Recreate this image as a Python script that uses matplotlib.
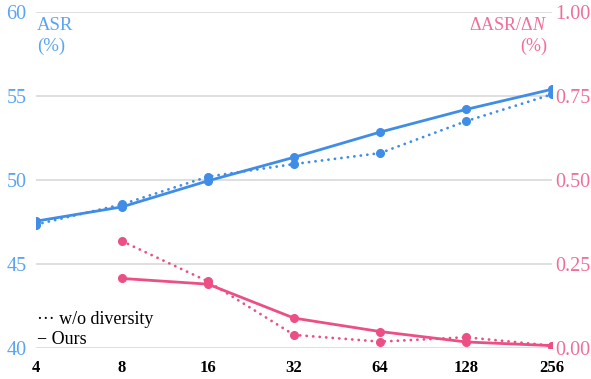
import numpy as np
import matplotlib
matplotlib.use("Agg")
import matplotlib.pyplot as plt

plt.rcParams['font.family'] = ['Liberation Serif', 'DejaVu Serif']
plt.rcParams['mathtext.fontset'] = 'custom'
plt.rcParams['mathtext.rm'] = 'Liberation Serif'
plt.rcParams['mathtext.it'] = 'Liberation Serif:italic'

# Data
n_samples = [4, 8, 16, 32, 64, 128, 256]
asr_ours = [47.55, 48.4, 49.95, 51.35, 52.85, 54.2, 55.4]
asr_wo_div = [47.35, 48.55, 50.2, 50.95, 51.6, 53.5, 55.1]

delta_n = [8, 16, 32, 64, 128, 256]
delta_ours = [0.207, 0.19, 0.089, 0.049, 0.018, 0.007]
delta_wo_div = [0.318, 0.198, 0.039, 0.019, 0.032, 0.007]

BLUE = "#3f8de6"
BLUE_TXT = "#5aa4f2"
PINK = "#ec4f86"
PINK_TXT = "#ef6f98"
DOTTED = (0, (0.05, 2.3))

fig = plt.figure(figsize=(5.91, 3.79), dpi=100)
ax = fig.add_axes([36 / 591, 1 - 348 / 379, 516 / 591, 336 / 379])
ax2 = ax.twinx()

x = np.log2(n_samples)
xd = np.log2(delta_n)

ax.plot(x, asr_wo_div, color=BLUE, lw=2.0, ls=DOTTED, marker='o', ms=5.5,
        dash_capstyle='round', zorder=3)
ax.plot(x, asr_ours, color=BLUE, lw=2.0, marker='o', ms=5.5, zorder=3)
ax2.plot(xd, delta_wo_div, color=PINK, lw=2.0, ls=DOTTED, marker='o', ms=5.5,
         dash_capstyle='round', zorder=3)
ax2.plot(xd, delta_ours, color=PINK, lw=2.0, marker='o', ms=5.5, zorder=3)

ax.set_xlim(x[0], x[-1])
ax.set_ylim(40, 60)
ax2.set_ylim(0, 1.0)
ax.set_yticks([40, 45, 50, 55, 60])
ax2.set_yticks([0, 0.25, 0.5, 0.75, 1.0])
ax2.set_yticklabels(["0.00", "0.25", "0.50", "0.75", "1.00"])
ax.set_xticks(x)
ax.set_xticklabels([str(v) for v in n_samples], fontweight='bold')

ax.grid(axis='y', color='#d9d9d9', lw=1.2)
ax.set_axisbelow(True)
for a in (ax, ax2):
    for s in a.spines.values():
        s.set_visible(False)
ax.tick_params(axis='x', length=0, labelsize=12, pad=9, labelcolor='black')
ax.tick_params(axis='y', length=0, labelsize=14.5, pad=7, labelcolor=BLUE_TXT)
ax2.tick_params(axis='y', length=0, labelsize=14.5, pad=2, labelcolor=PINK_TXT)

ax.text(0.002, 0.985, "ASR\n(%)", transform=ax.transAxes, ha='left', va='top',
        color=BLUE_TXT, fontsize=13.5, linespacing=1.3)
ax2.text(0.99, 0.985, r"$\Delta$ASR/$\Delta\mathit{N}$" + "\n(%)", transform=ax.transAxes,
         ha='right', va='top', color=PINK_TXT, fontsize=13, linespacing=1.3, multialignment='right')

ax.text(0.002, 0.061, "\u00b7\u00b7\u00b7 w/o diversity", transform=ax.transAxes, ha='left',
        va='bottom', fontsize=13, color='black')
ax.text(0.002, 0.001, "\u2212 Ours", transform=ax.transAxes, ha='left', va='bottom',
        fontsize=13, color='black')

fig.savefig("out.png", dpi=100)
